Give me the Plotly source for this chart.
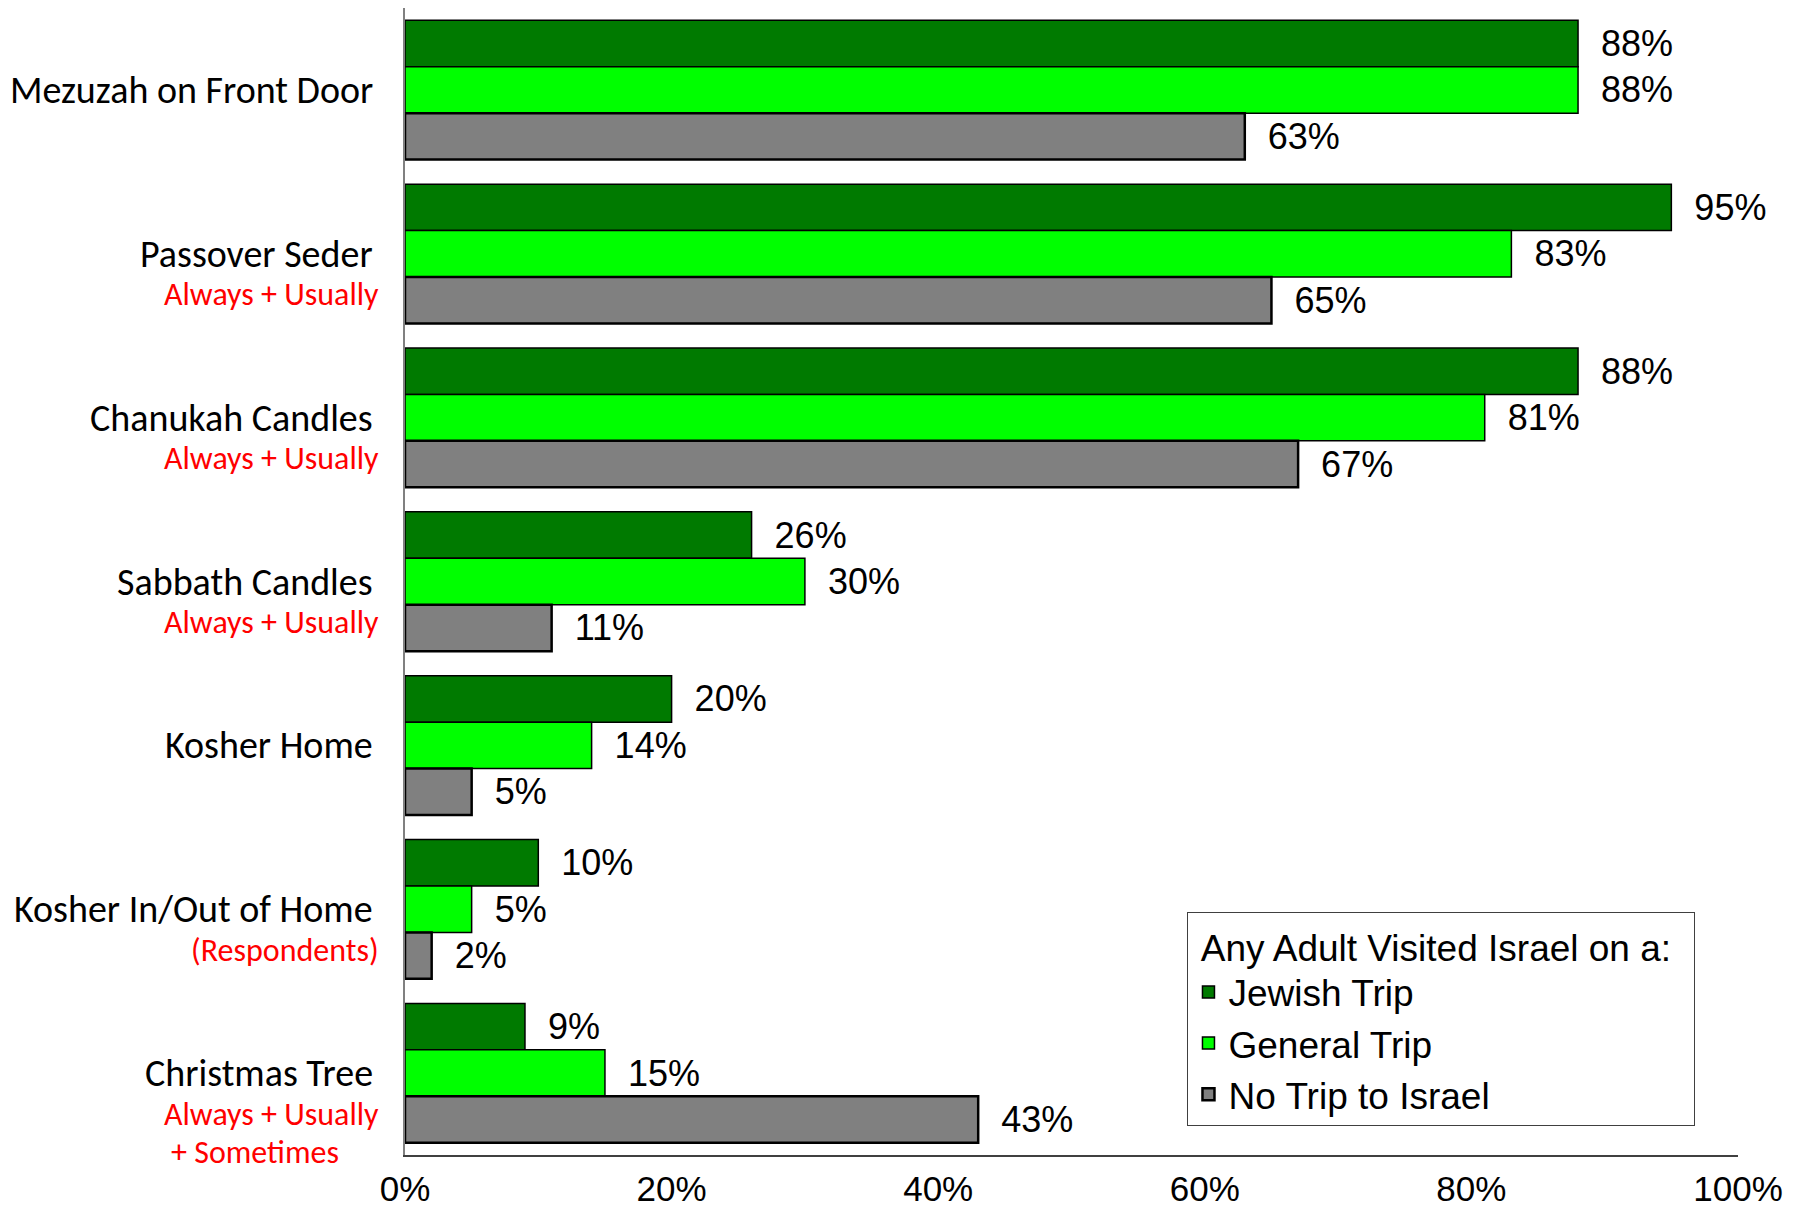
import plotly.graph_objects as go

# chart data
categories = ["Mezuzah on Front Door", "Passover Seder", "Chanukah Candles",
              "Sabbath Candles", "Kosher Home", "Kosher In/Out of Home",
              "Christmas Tree"]
subtitles = [[], ["Always + Usually"], ["Always + Usually"], ["Always + Usually"],
             [], ["(Respondents)"], ["Always + Usually", "+ Sometimes"]]
jewish_trip = [88, 95, 88, 26, 20, 10, 9]
general_trip = [88, 83, 81, 30, 14, 5, 15]
no_trip = [63, 65, 67, 11, 5, 2, 43]
x_ticks = [0, 20, 40, 60, 80, 100]

ARIAL = "Arial, Liberation Sans, sans-serif"
CAT_FONT = "Calibri, Lato, sans-serif"

series = [
    ("Jewish Trip", jewish_trip, "#007A00", 1.5),
    ("General Trip", general_trip, "#00FF00", 1.5),
    ("No Trip to Israel", no_trip, "#808080", 2.5),
]

fig = go.Figure()
for name, vals, color, lw in series:
    fig.add_trace(go.Bar(
        y=categories, x=vals, name=name, orientation="h",
        marker=dict(color=color, line=dict(color="black", width=lw)),
        text=["\u00a0\u00a0" + str(v) + "%" for v in vals],
        textposition="outside", constraintext="none", cliponaxis=False,
        textfont=dict(family=ARIAL, size=36, color="black"),
    ))

annotations = []
for cat, subs in zip(categories, subtitles):
    annotations.append(dict(
        x=0, xref="paper", y=cat, yref="y", text=cat, showarrow=False,
        xanchor="right", yanchor="middle", xshift=-30,
        font=dict(family=CAT_FONT, size=38, color="black")))
    # center the extra lines of a block on its widest line
    widest = max((len(s) for s in subs), default=0)
    for i, s in enumerate(subs):
        pad = (widest - len(s)) * 8
        annotations.append(dict(
            x=0, xref="paper", y=cat, yref="y", text=s, showarrow=False,
            xanchor="right", yanchor="middle",
            xshift=-24 - pad, yshift=-41 - 38 * i,
            font=dict(family=CAT_FONT, size=32, color="#FF0000")))

# the page body adds an 8px offset, so the figure is 8px smaller
fig.update_layout(
    width=1797, height=1207,
    margin=dict(l=397, r=67, t=0, b=60, autoexpand=False),
    paper_bgcolor="white", plot_bgcolor="white",
    barmode="group", bargap=0.15, bargroupgap=0,
    showlegend=True,
    legend=dict(
        title=dict(text="\u00a0Any Adult Visited Israel on a:\u00a0\u00a0",
                   font=dict(family=ARIAL, size=37, color="black"), side="top"),
        font=dict(family=ARIAL, size=37, color="black"),
        x=0.587, y=0.025, xanchor="left", yanchor="bottom",
        bordercolor="#404040", borderwidth=1, bgcolor="white",
        itemwidth=30, traceorder="normal", tracegroupgap=0,
    ),
    annotations=annotations,
)
fig.update_xaxes(
    range=[0, 100], tickvals=x_ticks, ticktext=[f"{t}%" for t in x_ticks],
    showgrid=False, zeroline=False, showline=True, linecolor="#404040",
    linewidth=1.5, ticks="", ticklabelstandoff=2,
    tickfont=dict(family=ARIAL, size=35, color="black"),
)
fig.update_yaxes(
    autorange="reversed", showticklabels=False, showgrid=False,
    showline=True, linecolor="#808080", linewidth=1.5, ticks="",
)

fig.write_html("out.html")
